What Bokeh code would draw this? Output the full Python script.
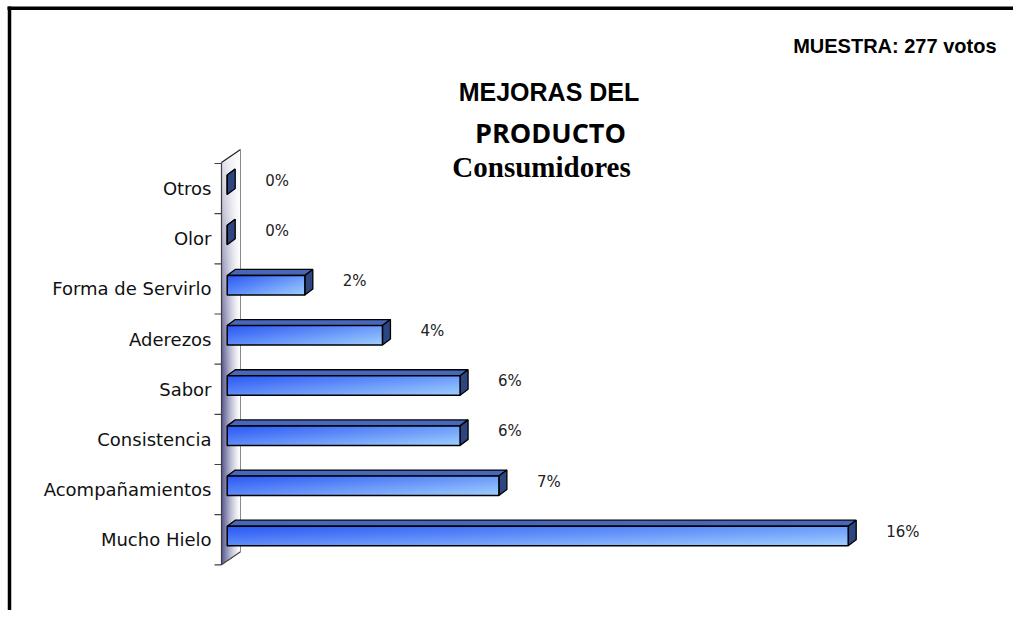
import numpy as np
from bokeh.plotting import figure
from bokeh.models import Range1d
from bokeh.core.properties import value
from bokeh.embed import file_html
from bokeh.resources import INLINE

# ---------------- data ----------------
categories = ["Mucho Hielo", "Acompañamientos", "Consistencia", "Sabor",
              "Aderezos", "Forma de Servirlo", "Olor", "Otros"]
percentages = [16, 7, 6, 6, 4, 2, 0, 0]
value_labels = [f"{v:.0f}%" for v in percentages]
title_lines = ["MEJORAS DEL", "PRODUCTO", "Consumidores"]
sample_note = "MUESTRA: 277 votos"

# ---------------- layout (canvas pixels) ----------------
W, H = 1013, 610
X0 = 226.7                    # canvas x of 0 %
XU = (847.7 - 226.7) / 16.0   # pixels per percent
YB = 564.3                    # canvas y of the lower edge of the bottom slot
YU = (564.3 - 163.0) / 8.0    # pixels per category slot


def dx(px):
    return (px - X0) / XU


def dy(py):
    return (YB - py) / YU


p = figure(width=W, height=H, x_range=Range1d(dx(0), dx(W)), y_range=Range1d(dy(H), dy(0)),
           x_axis_type=None, y_axis_type=None, output_backend="svg", toolbar_location=None,
           min_border=0, outline_line_color=None, background_fill_color="white",
           border_fill_color="white")
p.xgrid.visible = False
p.ygrid.visible = False

# ---------------- 3D wall ----------------
wl, wr = 221.0, 240.0            # wall left/right canvas x
wt, wb = 162.0, 564.3            # left edge top/bottom
wdy = -13.0                      # depth rise of wall
nx, ny = int(wr - wl), int(wb - (wt + wdy))
img = np.zeros((ny, nx), dtype=np.uint32)
view = img.view(dtype=np.uint8).reshape((ny, nx, 4))
top_canvas = wt + wdy
for r in range(ny):
    cy = wb - (r + 0.5)           # row 0 at bottom
    yf = (wb - cy) / (wb - top_canvas)
    for c in range(nx):
        cx = wl + c + 0.5
        xf = (cx - wl) / (wr - wl)
        ytop = wt + wdy * xf
        ybot = wb + wdy * xf
        if ytop <= cy <= ybot:
            d = (1 - xf) ** 1.4 * min(1.0, 0.15 + 1.6 * (1 - yf))
            view[r, c, 0] = int(255 + (82 - 255) * d)
            view[r, c, 1] = int(255 + (82 - 255) * d)
            view[r, c, 2] = int(255 + (140 - 255) * d)
            view[r, c, 3] = 255
p.image_rgba(image=[img], x=dx(wl), y=dy(wb), dw=dx(wr) - dx(wl), dh=dy(top_canvas) - dy(wb))
p.line([dx(wl), dx(wl)], [dy(wt), dy(wb)], line_color="#404040", line_width=1.2)
p.line([dx(wl), dx(wr)], [dy(wt), dy(wt + wdy)], line_color="#202020", line_width=1.2)
p.line([dx(wr), dx(wr)], [dy(wt + wdy), dy(wb + wdy)], line_color="#8a8a8a", line_width=1)
p.line([dx(wl), dx(wr)], [dy(wb), dy(wb + wdy)], line_color="#404040", line_width=1.2)

# category boundary ticks
bounds = list(range(len(categories) + 1))
p.segment(x0=[dx(214)] * len(bounds), x1=[dx(wl)] * len(bounds), y0=bounds, y1=bounds,
          line_color="#404040", line_width=1.2)

# ---------------- 3D bars ----------------
centers = [i + 0.5 for i in range(len(categories))]
f_top = [c + 13.5 / YU for c in centers]
f_bot = [c - 6.0 / YU for c in centers]
ddx, ddy = 8.0 / XU, 6.0 / YU

top_xs = [[0, v, v + ddx, ddx] for v in percentages]
top_ys = [[t, t, t + ddy, t + ddy] for t in f_top]
p.patches(top_xs, top_ys, fill_color="#4767bb", line_color="black", line_width=1.3)

side_xs = [[v, v + ddx, v + ddx, v] for v in percentages]
side_ys = [[b, b + ddy, t + ddy, t] for b, t in zip(f_bot, f_top)]
p.patches(side_xs, side_ys, fill_color="#2d4682", line_color="black", line_width=1.3)

# front faces with a diagonal blue gradient
gx, gy = 128, 20
xf = np.linspace(0, 1, gx)[None, :]
yf = np.linspace(0, 1, gy)[:, None]          # 0 bottom, 1 top
t = np.clip(0.55 * xf + 0.45 * (1 - yf), 0, 1)
c0 = np.array([42, 86, 244])
c1 = np.array([158, 206, 255])
grad = np.zeros((gy, gx), dtype=np.uint32)
gv = grad.view(dtype=np.uint8).reshape((gy, gx, 4))
for k in range(3):
    gv[:, :, k] = (c0[k] + (c1[k] - c0[k]) * t).astype(np.uint8)
gv[:, :, 3] = 255
imgs, ix, iy, idw, idh = [], [], [], [], []
for v, b, tp in zip(percentages, f_bot, f_top):
    if v > 0:
        imgs.append(grad)
        ix.append(0)
        iy.append(b)
        idw.append(v)
        idh.append(tp - b)
p.image_rgba(image=imgs, x=ix, y=iy, dw=idw, dh=idh)
p.quad(left=[0] * len(percentages), right=percentages, bottom=f_bot, top=f_top,
       fill_color=None, line_color="black", line_width=1.5)

# value labels
p.text(x=percentages, y=centers, text=value_labels, x_offset=38, y_offset=-8,
       text_align="left", text_baseline="middle", text_color="#222222",
       text_font=value("DejaVu Sans"), text_font_size=value("15px"))

# category labels
p.text(x=[dx(211)] * len(categories), y=centers, text=categories,
       text_align="right", text_baseline="middle", text_color="#111111",
       text_font=value("DejaVu Sans"), text_font_size=value("18px"))

# ---------------- titles ----------------
p.text(x=[dx(996)], y=[dy(45)], text=[sample_note], text_align="right",
       text_baseline="alphabetic", text_color="black", text_font=value("Liberation Sans"),
       text_font_size=value("20px"), text_font_style="bold")
p.text(x=[dx(548.5)], y=[dy(91)], text=[title_lines[0]], text_align="center",
       text_baseline="alphabetic", text_color="black", text_font=value("Liberation Sans"),
       text_font_size=value("25px"), text_font_style="bold")
p.text(x=[dx(550)], y=[dy(131.7)], text=[title_lines[1]], text_align="center",
       text_baseline="alphabetic", text_color="black", text_font=value("Open Sans"),
       text_font_size=value("27px"), text_font_style="bold")
p.text(x=[dx(541)], y=[dy(166)], text=[title_lines[2]], text_align="center",
       text_baseline="alphabetic", text_color="black", text_font=value("Liberation Serif"),
       text_font_size=value("29px"), text_font_style="bold")

# ---------------- chart frame (top and left edges visible) ----------------
p.line([dx(7), dx(W)], [dy(7.8), dy(7.8)], line_color="black", line_width=3.5)
p.line([dx(9), dx(9)], [dy(6), dy(H)], line_color="black", line_width=3.5)

open("out.html", "w").write(file_html(p, INLINE))
